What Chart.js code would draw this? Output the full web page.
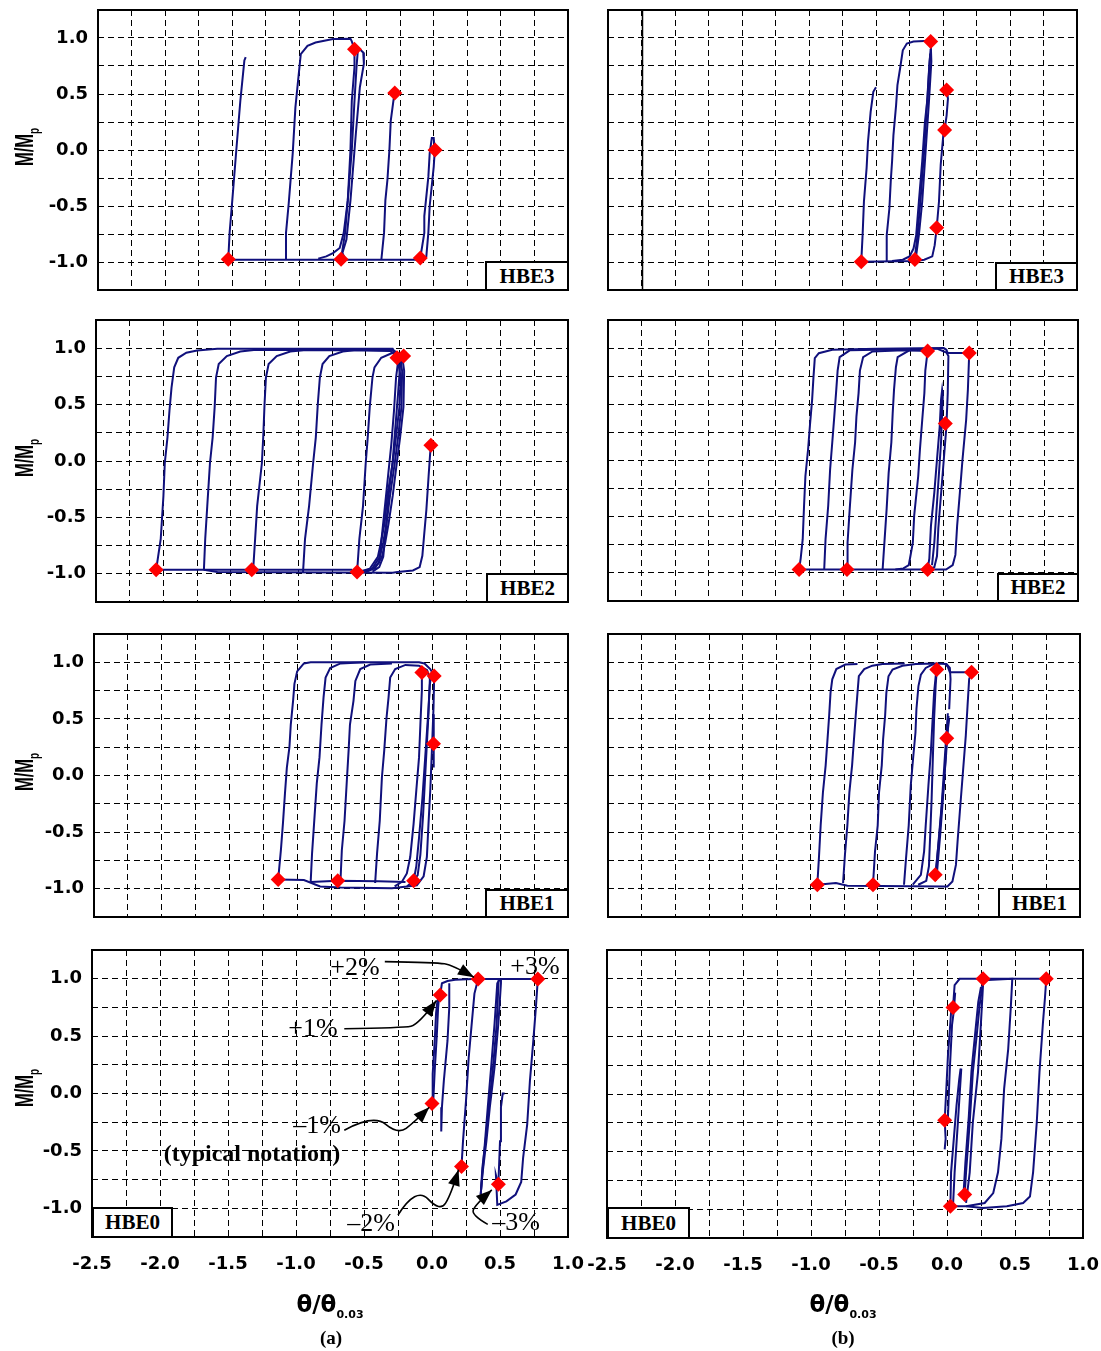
<!DOCTYPE html>
<html>
<head>
<meta charset="utf-8">
<script src="https://cdn.jsdelivr.net/npm/chart.js@4.4.1/dist/chart.umd.min.js"></script>
<style>
  body { margin: 0; background: #fff; }
  #page { position: relative; width: 1101px; height: 1351px; overflow: hidden; background: #fff; }
  canvas { position: absolute; }
  .tag { position: absolute; box-sizing: border-box; border: 2px solid #000; background: #fff;
         font: bold 21px "Liberation Serif", serif; display: flex; align-items: center; justify-content: center; z-index: 2; }
  .ytitle { position: absolute; font: bold 25px "Liberation Sans", Arial, sans-serif; white-space: nowrap;
            transform: translate(-50%, -50%) rotate(-90deg) scaleX(0.66); z-index: 2; }
  .ytitle sub { font-size: 15px; }
  .xtitle { position: absolute; font: bold 23px "DejaVu Sans", sans-serif; white-space: nowrap;
            transform: translate(-50%, -50%); z-index: 2; }
  .xtitle sub { font-size: 11px; }
  .cap { position: absolute; font: bold 19px "Liberation Serif", serif; transform: translate(-50%, -50%); z-index: 2; }
  .note { position: absolute; font: 26px "Liberation Serif", serif; white-space: nowrap;
          transform: translate(-50%, -50%); z-index: 2; }
  .note b { font-size: 24px; }
</style>
</head>
<body>
<div id="page"></div>
<script>
  // axis ticks (every 0.25, labelled every 0.5)
  const xTicks = [-2.5,-2.25,-2.0,-1.75,-1.5,-1.25,-1.0,-0.75,-0.5,-0.25,0,0.25,0.5,0.75,1.0];
  const yTicks = [-1.25,-1.0,-0.75,-0.5,-0.25,0,0.25,0.5,0.75,1.0,1.25];

  // ---- HBE3 (a) : [theta/theta0.03, M/Mp]
  const hbe3aLoops = [
    [[-1.53,-0.98],[-1.52,-0.74],[-1.50,-0.45],[-1.47,0],[-1.44,0.44],[-1.42,0.68],[-1.41,0.80],[-1.40,0.83]],
    [[-1.53,-0.98],[-0.10,-0.98]],
    [[-1.10,-0.98],[-1.10,-0.74],[-1.08,-0.48],[-1.05,-0.03],[-1.03,0.38],[-1.01,0.62],[-0.99,0.855],[-0.94,0.93],[-0.88,0.96],[-0.75,0.99],[-0.62,0.994],[-0.61,0.97],[-0.59,0.90],[-0.59,0.74],[-0.61,0.44],[-0.62,0],[-0.64,-0.45],[-0.66,-0.74],[-0.69,-0.97]],
    [[-0.86,-0.97],[-0.80,-0.95],[-0.75,-0.92],[-0.70,-0.875],[-0.67,-0.74],[-0.64,-0.45],[-0.61,0],[-0.59,0.44],[-0.575,0.74],[-0.565,0.89],[-0.55,0.90],[-0.525,0.87],[-0.52,0.77],[-0.55,0.56],[-0.58,0.145],[-0.62,-0.45],[-0.65,-0.80],[-0.68,-0.92],[-0.66,-0.97]],
    [[-0.39,-0.98],[-0.37,-0.74],[-0.36,-0.45],[-0.345,-0.27],[-0.33,0],[-0.32,0.26],[-0.30,0.44],[-0.29,0.51]],
    [[-0.10,-0.965],[-0.07,-0.74],[-0.07,-0.59],[-0.04,-0.24],[-0.03,-0.03],[-0.014,0.107],[0,0.107],[0.008,0],[0,-0.15],[-0.03,-0.5],[-0.04,-0.74],[-0.055,-0.95],[-0.07,-0.975]]
  ];
  const hbe3aPeaks = [[-1.53,-0.975],[-0.59,0.90],[-0.69,-0.975],[-0.29,0.51],[-0.10,-0.965],[0.01,0.0]];

  // ---- HBE3 (b)
  const hbe3bLoops = [
    [[-0.61,-0.998],[-0.60,-0.76],[-0.59,-0.46],[-0.57,-0.16],[-0.56,0.07],[-0.54,0.34],[-0.52,0.52],[-0.50,0.56]],
    [[-0.61,-0.998],[-0.21,-0.99],[-0.14,-0.98],[-0.08,-0.95],[-0.062,-0.85],[-0.047,-0.694],[-0.03,-0.46],[-0.017,-0.13],[0.002,0.13],[0.012,0.179],[0.027,0.31],[0.037,0.46],[0.027,0.536]],
    [[-0.42,-0.99],[-0.42,-0.76],[-0.40,-0.52],[-0.39,-0.28],[-0.38,-0.10],[-0.37,0.13],[-0.35,0.40],[-0.34,0.58],[-0.32,0.73],[-0.30,0.89],[-0.27,0.95],[-0.22,0.968],[-0.10,0.975],[-0.092,0.968],[-0.087,0.79],[-0.105,0.43],[-0.13,-0.015],[-0.155,-0.46],[-0.18,-0.76],[-0.20,-0.94],[-0.21,-0.98]],
    [[-0.38,-0.99],[-0.30,-0.98],[-0.25,-0.95],[-0.22,-0.88],[-0.20,-0.76],[-0.18,-0.46],[-0.155,-0.10],[-0.135,0.25],[-0.115,0.47],[-0.10,0.79],[-0.092,0.90]],
    [[-0.21,-0.96],[-0.19,-0.76],[-0.165,-0.40],[-0.14,0.0],[-0.12,0.40],[-0.105,0.70],[-0.095,0.86]]
  ];
  const hbe3bPeaks = [[-0.092,0.968],[0.027,0.536],[0.012,0.179],[-0.047,-0.694],[-0.21,-0.977],[-0.61,-0.998]];

  // ---- HBE2 (a)
  const hbe2aLoops = [
    [[-2.054,-0.965],[-2.02,-0.69],[-2.00,-0.31],[-1.99,-0.02],[-1.97,0.21],[-1.955,0.45],[-1.94,0.65],[-1.92,0.83],[-1.89,0.915],[-1.83,0.96],[-1.75,0.98],[-1.6,0.995],[-0.30,0.995],[-0.268,0.93],[-0.24,0.74],[-0.25,0.48],[-0.276,0.21],[-0.30,-0.02],[-0.34,-0.31],[-0.36,-0.55],[-0.387,-0.72],[-0.41,-0.85],[-0.47,-0.955],[-0.56,-0.985]],
    [[-2.054,-0.965],[-1.70,-0.965],[-1.60,-0.985],[-0.30,-0.99],[-0.265,-0.985],[-0.15,-0.97],[-0.10,-0.94],[-0.08,-0.84],[-0.067,-0.66],[-0.05,-0.43],[-0.034,-0.14],[-0.022,0.07],[-0.01,0.18]],
    [[-1.70,-0.965],[-0.60,-0.965]],
    [[-1.70,-0.97],[-1.69,-0.69],[-1.675,-0.40],[-1.655,-0.02],[-1.635,0.21],[-1.62,0.48],[-1.61,0.74],[-1.59,0.86],[-1.53,0.93],[-1.43,0.97],[-1.33,0.985],[-0.30,0.985],[-0.25,0.95],[-0.23,0.80],[-0.235,0.48],[-0.26,0.21],[-0.285,-0.02],[-0.32,-0.31],[-0.345,-0.55],[-0.37,-0.72],[-0.395,-0.85],[-0.45,-0.95],[-0.52,-0.98]],
    [[-1.335,-0.97],[-1.32,-0.69],[-1.305,-0.40],[-1.27,-0.02],[-1.26,0.21],[-1.25,0.51],[-1.24,0.74],[-1.22,0.86],[-1.16,0.93],[-1.06,0.97],[-0.94,0.985],[-0.30,0.98],[-0.23,0.93],[-0.215,0.80],[-0.22,0.48],[-0.245,0.21],[-0.27,-0.02],[-0.30,-0.31],[-0.33,-0.55],[-0.355,-0.72],[-0.38,-0.85],[-0.43,-0.95],[-0.50,-0.98]],
    [[-0.965,-0.99],[-0.95,-0.69],[-0.92,-0.40],[-0.89,-0.02],[-0.87,0.21],[-0.855,0.51],[-0.84,0.74],[-0.82,0.86],[-0.77,0.93],[-0.67,0.97],[-0.57,0.985],[-0.32,0.975],[-0.26,0.93]],
    [[-0.564,-0.985],[-0.547,-0.69],[-0.52,-0.40],[-0.50,-0.02],[-0.485,0.21],[-0.47,0.48],[-0.45,0.74],[-0.435,0.83],[-0.385,0.915],[-0.30,0.96],[-0.268,0.915]],
    [[-0.50,-0.985],[-0.44,-0.95],[-0.40,-0.90],[-0.385,-0.72],[-0.36,-0.43],[-0.335,-0.14],[-0.31,0.15],[-0.29,0.45],[-0.275,0.74],[-0.26,0.88]],
    [[-0.45,-0.98],[-0.40,-0.94],[-0.37,-0.85],[-0.35,-0.60],[-0.33,-0.30],[-0.30,0.0],[-0.28,0.30],[-0.26,0.60],[-0.245,0.85],[-0.22,0.93]]
  ];
  const hbe2aPeaks = [[-2.054,-0.965],[-1.345,-0.965],[-0.564,-0.985],[-0.268,0.915],[-0.219,0.93],[-0.017,0.14]];

  // ---- HBE2 (b)
  const hbe2bLoops = [
    [[-1.077,-0.97],[-1.065,-0.87],[-1.05,-0.70],[-1.04,-0.40],[-1.03,-0.14],[-1.01,0.10],[-0.995,0.33],[-0.98,0.54],[-0.97,0.74],[-0.96,0.91],[-0.93,0.955],[-0.83,0.985],[-0.5,0.995],[0,1.0],[0.02,0.985],[0.03,0.956],[0.19,0.956],[0.18,0.63],[0.167,0.36],[0.14,0.01],[0.12,-0.29],[0.10,-0.58],[0.087,-0.84],[0.067,-0.93],[0.017,-0.97],[-0.5,-0.97],[-1.077,-0.97]],
    [[-0.89,-0.97],[-0.88,-0.70],[-0.86,-0.40],[-0.846,-0.08],[-0.83,0.16],[-0.815,0.39],[-0.80,0.63],[-0.79,0.80],[-0.775,0.92],[-0.70,0.98],[-0.3,0.99],[-0.05,0.995],[0.02,0.96],[0.035,0.93],[0.03,0.60],[0.02,0.30],[0.0,0.0],[-0.02,-0.30],[-0.04,-0.60],[-0.05,-0.85],[-0.07,-0.95],[-0.12,-0.97]],
    [[-0.72,-0.97],[-0.716,-0.73],[-0.70,-0.43],[-0.68,-0.08],[-0.66,0.16],[-0.65,0.39],[-0.634,0.60],[-0.624,0.80],[-0.60,0.92],[-0.53,0.97],[-0.3,0.98],[-0.12,0.975]],
    [[-0.455,-0.97],[-0.44,-0.70],[-0.425,-0.43],[-0.41,-0.11],[-0.39,0.16],[-0.38,0.42],[-0.37,0.63],[-0.356,0.83],[-0.343,0.92],[-0.256,0.98],[-0.12,0.985]],
    [[-0.36,-0.97],[-0.30,-0.96],[-0.26,-0.93],[-0.23,-0.73],[-0.22,-0.49],[-0.19,-0.14],[-0.177,0.10],[-0.16,0.36],[-0.144,0.60],[-0.137,0.80],[-0.12,0.974]],
    [[-0.12,-0.97],[-0.107,-0.87],[-0.095,-0.58],[-0.07,-0.285],[-0.05,0.01],[-0.03,0.30],[-0.02,0.54],[-0.012,0.626],[-0.007,0.57],[-0.02,0.16],[-0.045,-0.285],[-0.07,-0.73],[-0.087,-0.93]]
  ];
  const hbe2bPeaks = [[-1.077,-0.97],[-0.72,-0.97],[-0.12,-0.97],[-0.12,0.974],[0.19,0.956],[0.012,0.33]];

  // ---- HBE1 (a)
  const hbe1aLoops = [
    [[-1.14,-0.918],[-1.12,-0.66],[-1.105,-0.425],[-1.09,-0.16],[-1.076,0.07],[-1.057,0.25],[-1.047,0.45],[-1.03,0.66],[-1.02,0.81],[-1.00,0.92],[-0.95,0.99],[-0.90,1.0],[-0.10,1.0],[-0.06,0.99],[-0.017,0.94],[0.012,0.88],[0.007,0.60],[-0.005,0.22],[-0.017,-0.13],[-0.03,-0.425],[-0.042,-0.72],[-0.066,-0.89],[-0.116,-0.97],[-0.19,-0.98]],
    [[-1.14,-0.918],[-0.95,-0.924],[-0.83,-0.98],[-0.68,-0.99],[-0.3,-0.995],[-0.19,-0.98],[-0.14,-0.93]],
    [[-0.90,-0.94],[-0.70,-0.93],[-0.4,-0.935],[-0.2,-0.94]],
    [[-0.90,-0.94],[-0.89,-0.69],[-0.875,-0.425],[-0.855,-0.07],[-0.835,0.16],[-0.82,0.45],[-0.805,0.69],[-0.79,0.865],[-0.756,0.95],[-0.68,0.99],[-0.5,1.0]],
    [[-0.68,-0.93],[-0.67,-0.66],[-0.65,-0.40],[-0.633,-0.044],[-0.62,0.22],[-0.61,0.45],[-0.584,0.66],[-0.57,0.835],[-0.534,0.94],[-0.46,0.98],[-0.3,0.99]],
    [[-0.424,-0.95],[-0.41,-0.69],[-0.39,-0.40],[-0.374,-0.015],[-0.357,0.22],[-0.34,0.51],[-0.325,0.69],[-0.313,0.865],[-0.276,0.94],[-0.20,0.977],[-0.10,0.97],[-0.04,0.93],[-0.02,0.85],[-0.03,0.55],[-0.05,0.1],[-0.07,-0.35],[-0.09,-0.70],[-0.11,-0.88],[-0.14,-0.93]],
    [[-0.28,-0.98],[-0.227,-0.94],[-0.19,-0.865],[-0.165,-0.72],[-0.14,-0.425],[-0.12,-0.13],[-0.10,0.16],[-0.09,0.45],[-0.079,0.75],[-0.079,0.91]],
    [[-0.14,-0.93],[-0.12,-0.8],[-0.10,-0.55],[-0.075,-0.2],[-0.055,0.15],[-0.035,0.5],[-0.02,0.8],[-0.01,0.9]],
    [[0.007,0.54],[0.01,0.30],[0.007,0.07]]
  ];
  const hbe1aPeaks = [[-1.14,-0.918],[-0.70,-0.93],[-0.14,-0.93],[-0.079,0.91],[0.012,0.88],[0.007,0.28]];

  // ---- HBE1 (b)
  const hbe1bLoops = [
    [[-0.948,-0.965],[-0.936,-0.73],[-0.923,-0.44],[-0.906,-0.146],[-0.886,0.09],[-0.874,0.29],[-0.86,0.53],[-0.85,0.73],[-0.837,0.85],[-0.807,0.94],[-0.74,0.98],[-0.65,0.985]],
    [[-0.948,-0.965],[-0.81,-0.95],[-0.725,-0.974],[0,-0.98],[0.017,-0.98],[0.054,-0.936],[0.08,-0.79],[0.092,-0.585],[0.109,-0.32],[0.13,0],[0.153,0.35],[0.166,0.614],[0.178,0.85],[0.196,0.912],[0.035,0.912],[0.02,0.96],[0,0.985]],
    [[-0.757,-0.95],[-0.743,-0.70],[-0.725,-0.44],[-0.71,-0.146],[-0.69,0.09],[-0.676,0.32],[-0.663,0.53],[-0.65,0.73],[-0.64,0.877],[-0.60,0.94],[-0.54,0.97],[-0.465,0.985],[-0.3,0.99]],
    [[-0.535,-0.965],[-0.52,-0.67],[-0.50,-0.44],[-0.49,-0.146],[-0.47,0.09],[-0.46,0.32],[-0.445,0.53],[-0.436,0.73],[-0.42,0.877],[-0.39,0.936],[-0.317,0.97],[-0.218,0.985],[-0.07,0.99],[0.01,0.985],[0.035,0.95],[0.04,0.85],[0.03,0.585]],
    [[-0.305,-0.965],[-0.29,-0.73],[-0.27,-0.44],[-0.255,-0.088],[-0.238,0.146],[-0.22,0.38],[-0.213,0.585],[-0.198,0.79],[-0.18,0.89],[-0.144,0.95],[-0.094,0.98],[-0.062,0.985]],
    [[-0.24,-0.965],[-0.18,-0.877],[-0.156,-0.67],[-0.144,-0.44],[-0.124,-0.088],[-0.106,0.205],[-0.094,0.47],[-0.082,0.73],[-0.07,0.877],[-0.062,0.936]],
    [[-0.062,0.936],[-0.07,0.80],[-0.082,0.50],[-0.09,0.2],[-0.10,-0.2],[-0.11,-0.5],[-0.12,-0.80],[-0.14,-0.93],[-0.2,-0.965]],
    [[0.025,0.526],[0.005,0.146],[-0.02,-0.205],[-0.045,-0.556],[-0.07,-0.848],[-0.074,-0.877]],
    [[0.03,0.50],[0.012,0.33],[-0.01,-0.1],[-0.035,-0.5],[-0.06,-0.85],[-0.07,-0.93]],
    [[0.02,0.55],[0.0,0.2],[-0.025,-0.25],[-0.05,-0.6],[-0.065,-0.82]]
  ];
  const hbe1bPeaks = [[-0.948,-0.965],[-0.535,-0.965],[-0.074,-0.877],[0.012,0.33],[-0.062,0.936],[0.196,0.912]];

  // ---- HBE0 (a)
  const hbe0aLoops = [
    [[0,-0.088],[0.005,0.17],[0.02,0.46],[0.03,0.70],[0.04,0.81],[0.06,0.857],[0.073,0.96],[0.114,0.98],[0.17,0.99],[0.30,0.997],[0.339,0.997],[0.778,0.997]],
    [[0.01,-0.05],[0.02,0.2],[0.035,0.5],[0.045,0.75],[0.055,0.88]],
    [[0.127,0.96],[0.127,0.75],[0.114,0.46],[0.087,0.11],[0.073,-0.12],[0.068,-0.33]],
    [[0.217,-0.635],[0.228,-0.415],[0.25,-0.064],[0.27,0.316],[0.29,0.58],[0.312,0.87],[0.339,0.997]],
    [[0.507,0.997],[0.507,0.96],[0.488,0.61],[0.46,0.23],[0.425,-0.12],[0.40,-0.415],[0.37,-0.71],[0.358,-0.88]],
    [[0.49,0.99],[0.475,0.6],[0.45,0.25],[0.42,-0.1],[0.395,-0.4],[0.37,-0.65],[0.36,-0.85]],
    [[0.358,-0.88],[0.37,-0.71],[0.41,-0.12],[0.435,0.23],[0.46,0.61],[0.48,0.96],[0.50,0.997]],
    [[0.488,-0.79],[0.50,-0.415],[0.507,-0.12],[0.52,0],[0.534,0]],
    [[0.778,0.997],[0.764,0.75],[0.745,0.46],[0.72,0.11],[0.70,-0.27],[0.67,-0.56],[0.656,-0.77],[0.615,-0.88],[0.547,-0.94],[0.48,-0.97],[0.47,-0.71],[0.488,-0.79]]
  ];
  const hbe0aPeaks = [[0.06,0.857],[0,-0.088],[0.339,0.997],[0.778,0.997],[0.217,-0.635],[0.488,-0.79]];

  // ---- HBE0 (b)
  const hbe0bLoops = [
    [[-0.017,-0.48],[-0.01,-0.39],[-0.017,-0.227],[-0.005,0.044],[0.007,0.335],[0.02,0.54],[0.03,0.71],[0.044,0.75],[0.056,0.946],[0.093,1.0],[0.265,1.0],[0.73,1.0]],
    [[0.007,-0.2],[0.02,0.2],[0.037,0.6],[0.05,0.72],[0.06,0.88]],
    [[0.025,-0.975],[0.03,-0.68],[0.05,-0.39],[0.07,-0.10],[0.09,0.13],[0.10,0.22]],
    [[0.025,-0.975],[0.14,-0.975],[0.265,-0.99],[0.44,-0.975],[0.56,-0.946],[0.61,-0.89],[0.633,-0.68],[0.66,-0.247],[0.68,0.19],[0.706,0.626],[0.72,0.83],[0.73,1.0]],
    [[0.13,-0.873],[0.14,-0.68],[0.167,-0.247],[0.19,0.19],[0.216,0.48],[0.24,0.77],[0.26,0.946],[0.265,1.0]],
    [[0.12,-0.9],[0.135,-0.6],[0.16,-0.2],[0.18,0.2],[0.205,0.5],[0.23,0.8],[0.25,0.93]],
    [[0.3,0.99],[0.48,1.0],[0.47,0.77],[0.45,0.39],[0.42,0.044],[0.40,-0.39],[0.375,-0.68],[0.34,-0.86],[0.277,-0.946],[0.14,-0.975]],
    [[0.265,0.946],[0.25,0.626],[0.228,0.19],[0.19,-0.247],[0.167,-0.68],[0.14,-0.946]],
    [[0.105,0.22],[0.08,-0.247],[0.056,-0.68],[0.045,-0.95]]
  ];
  const hbe0bPeaks = [[0.265,1.0],[0.73,1.0],[0.044,0.75],[-0.017,-0.227],[0.13,-0.873],[0.025,-0.975]];

  // curved arrows of the "typical notation" in HBE0 (a), in data units
  const noteArrows = [
    [[-0.347,1.149],[0.033,1.14],[0.15,1.12],[0.309,1.012]],
    [[-0.645,0.564],[-0.21,0.573],[-0.10,0.60],[0.033,0.81]],
    [[-0.645,-0.32],[-0.43,-0.18],[-0.25,-0.357],[-0.13,-0.25],[-0.02,-0.12]],
    [[-0.25,-1.058],[-0.117,-0.81],[0.06,-1.03],[0.14,-0.88],[0.195,-0.664]],
    [[0.41,-1.14],[0.29,-1.06],[0.317,-0.97],[0.44,-0.84]]
  ];

  const LINE_COLOR = '#10107c';
  const PEAK_COLOR = '#ff0000';

  const panels = [
    { name: 'HBE3', col: 'a', box: [98, 10, 568, 290], loops: hbe3aLoops, peaks: hbe3aPeaks, tag: [485, 261, 84, 30] },
    { name: 'HBE3', col: 'b', box: [608, 10, 1077, 290], loops: hbe3bLoops, peaks: hbe3bPeaks, tag: [995, 262, 83, 29], axisAt: -2.25 },
    { name: 'HBE2', col: 'a', box: [96, 320, 568, 602], loops: hbe2aLoops, peaks: hbe2aPeaks, tag: [486, 573, 83, 30] },
    { name: 'HBE2', col: 'b', box: [608, 320, 1078, 601], loops: hbe2bLoops, peaks: hbe2bPeaks, tag: [997, 573, 82, 29] },
    { name: 'HBE1', col: 'a', box: [94, 634, 568, 917], loops: hbe1aLoops, peaks: hbe1aPeaks, tag: [485, 889, 84, 29] },
    { name: 'HBE1', col: 'b', box: [608, 634, 1080, 917], loops: hbe1bLoops, peaks: hbe1bPeaks, tag: [998, 888, 83, 30] },
    { name: 'HBE0', col: 'a', box: [92, 950, 568, 1237], loops: hbe0aLoops, peaks: hbe0aPeaks, tag: [92, 1207, 81, 31], bottom: true, notes: true },
    { name: 'HBE0', col: 'b', box: [607, 950, 1083, 1238], loops: hbe0bLoops, peaks: hbe0bPeaks, tag: [607, 1207, 83, 32], bottom: true }
  ];

  const page = document.getElementById('page');
  const tickFont = { family: '"DejaVu Sans", sans-serif', size: 18, weight: 'bold' };
  const halfStep = v => Math.round(v * 100) % 50 === 0;

  function drawArrow(ctx, pts) {
    ctx.beginPath();
    ctx.moveTo(pts[0].x, pts[0].y);
    for (let i = 1; i < pts.length - 1; i++) {
      const mx = (pts[i].x + pts[i + 1].x) / 2, my = (pts[i].y + pts[i + 1].y) / 2;
      if (i === pts.length - 2) ctx.quadraticCurveTo(pts[i].x, pts[i].y, pts[i + 1].x, pts[i + 1].y);
      else ctx.quadraticCurveTo(pts[i].x, pts[i].y, mx, my);
    }
    if (pts.length === 2) ctx.lineTo(pts[1].x, pts[1].y);
    ctx.stroke();
    // arrow head
    const tip = pts[pts.length - 1], prev = pts[pts.length - 2];
    const a = Math.atan2(tip.y - prev.y, tip.x - prev.x);
    const len = 16, wid = 6;
    ctx.beginPath();
    ctx.moveTo(tip.x, tip.y);
    ctx.lineTo(tip.x - len * Math.cos(a) + wid * Math.sin(a), tip.y - len * Math.sin(a) - wid * Math.cos(a));
    ctx.lineTo(tip.x - len * Math.cos(a) - wid * Math.sin(a), tip.y - len * Math.sin(a) + wid * Math.cos(a));
    ctx.closePath();
    ctx.fill();
  }

  const framePlugin = {
    id: 'frame',
    afterDatasetsDraw(chart, args, opts) {
      const { ctx, chartArea: ca, scales } = chart;
      ctx.save();
      ctx.strokeStyle = '#000';
      if (opts.axisAt !== undefined) {
        const px = Math.round(scales.x.getPixelForValue(opts.axisAt)) + 0.5;
        ctx.lineWidth = 1.5;
        ctx.beginPath(); ctx.moveTo(px, ca.top); ctx.lineTo(px, ca.bottom); ctx.stroke();
      }
      if (opts.notes) {
        ctx.lineWidth = 1.6;
        ctx.fillStyle = '#000';
        noteArrows.forEach(arr => {
          const pts = arr.map(([x, y]) => ({ x: scales.x.getPixelForValue(x), y: scales.y.getPixelForValue(y) }));
          drawArrow(ctx, pts);
        });
      }
      ctx.lineWidth = 2;
      ctx.strokeRect(ca.left, ca.top, ca.right - ca.left, ca.bottom - ca.top);
      ctx.restore();
    }
  };

  panels.forEach(p => {
    const [x0, y0, x1, y1] = p.box;
    const colA = p.col === 'a';
    const padLeft = colA ? 0 : 30;
    const padRight = Math.min(20, 1101 - x1);
    const yWidth = colA ? x0 : 0;
    const xHeight = p.bottom ? 60 : 0;
    const left = colA ? 0 : x0 - 30;
    const top = y0 - 1;
    const w = x1 + padRight - left;
    const h = (y1 - y0) + 1 + (p.bottom ? xHeight : 1);

    const canvas = document.createElement('canvas');
    canvas.width = w; canvas.height = h;
    canvas.style.left = left + 'px'; canvas.style.top = top + 'px';
    canvas.style.width = w + 'px'; canvas.style.height = h + 'px';
    page.appendChild(canvas);

    const datasets = p.loops.map(loop => ({
      data: loop.map(([x, y]) => ({ x, y })),
      showLine: true, borderColor: LINE_COLOR, borderWidth: 2, pointRadius: 0,
      tension: 0, fill: false, order: 1
    }));
    datasets.push({
      data: p.peaks.map(([x, y]) => ({ x, y })),
      showLine: false, pointStyle: 'rectRot', pointRadius: 7.5,
      backgroundColor: PEAK_COLOR, borderColor: PEAK_COLOR, borderWidth: 0, order: 0
    });

    new Chart(canvas, {
      type: 'scatter',
      data: { datasets },
      plugins: [framePlugin],
      options: {
        responsive: false, animation: false, events: [],
        layout: { autoPadding: false, padding: { left: padLeft, right: padRight, top: 1, bottom: p.bottom ? 0 : 1 } },
        plugins: { legend: { display: false }, tooltip: { enabled: false },
                   frame: { axisAt: p.axisAt, notes: !!p.notes } },
        scales: {
          x: {
            type: 'linear', min: -2.5, max: 1.0,
            afterBuildTicks: s => { s.ticks = xTicks.map(v => ({ value: v })); },
            afterFit: s => { s.height = xHeight; s.paddingLeft = 0; s.paddingRight = 0; },
            grid: { color: '#000', lineWidth: 1, drawTicks: false },
            border: { display: false, dash: [6, 4] },
            ticks: { display: !!p.bottom, autoSkip: false, maxRotation: 0, minRotation: 0, padding: 17,
                     color: '#000', font: tickFont, callback: v => halfStep(v) ? v.toFixed(1) : '' }
          },
          y: {
            type: 'linear', min: -1.25, max: 1.25,
            afterBuildTicks: s => { s.ticks = yTicks.map(v => ({ value: v })); },
            afterFit: s => { s.width = yWidth; s.paddingTop = 0; s.paddingBottom = 0; },
            grid: { color: '#000', lineWidth: 1, drawTicks: false },
            border: { display: false, dash: [6, 4] },
            ticks: { display: colA, autoSkip: false, padding: 10, color: '#000', font: tickFont,
                     callback: v => halfStep(v) ? v.toFixed(1) : '' }
          }
        }
      }
    });

    const tag = document.createElement('div');
    tag.className = 'tag';
    tag.textContent = p.name;
    tag.style.left = p.tag[0] + 'px'; tag.style.top = p.tag[1] + 'px';
    tag.style.width = p.tag[2] + 'px'; tag.style.height = p.tag[3] + 'px';
    page.appendChild(tag);
  });

  // axis titles and captions
  function addText(cls, html, x, y) {
    const d = document.createElement('div');
    d.className = cls; d.innerHTML = html;
    d.style.left = x + 'px'; d.style.top = y + 'px';
    page.appendChild(d);
  }
  [147, 458, 772, 1088].forEach(y => addText('ytitle', 'M/M<sub>p</sub>', 26, y));
  addText('xtitle', 'θ/θ<sub>0.03</sub>', 330, 1306);
  addText('xtitle', 'θ/θ<sub>0.03</sub>', 843, 1306);
  addText('cap', '(a)', 331, 1338);
  addText('cap', '(b)', 843, 1338);

  // typical notation labels
  addText('note', '+2%', 355, 967);
  addText('note', '+3%', 535, 966);
  addText('note', '+1%', 313, 1028);
  addText('note', '–1%', 317, 1125);
  addText('note', '<b>(typical notation)</b>', 252, 1153);
  addText('note', '–2%', 371, 1223);
  addText('note', '–3%', 516, 1222);
</script>
</body>
</html>
